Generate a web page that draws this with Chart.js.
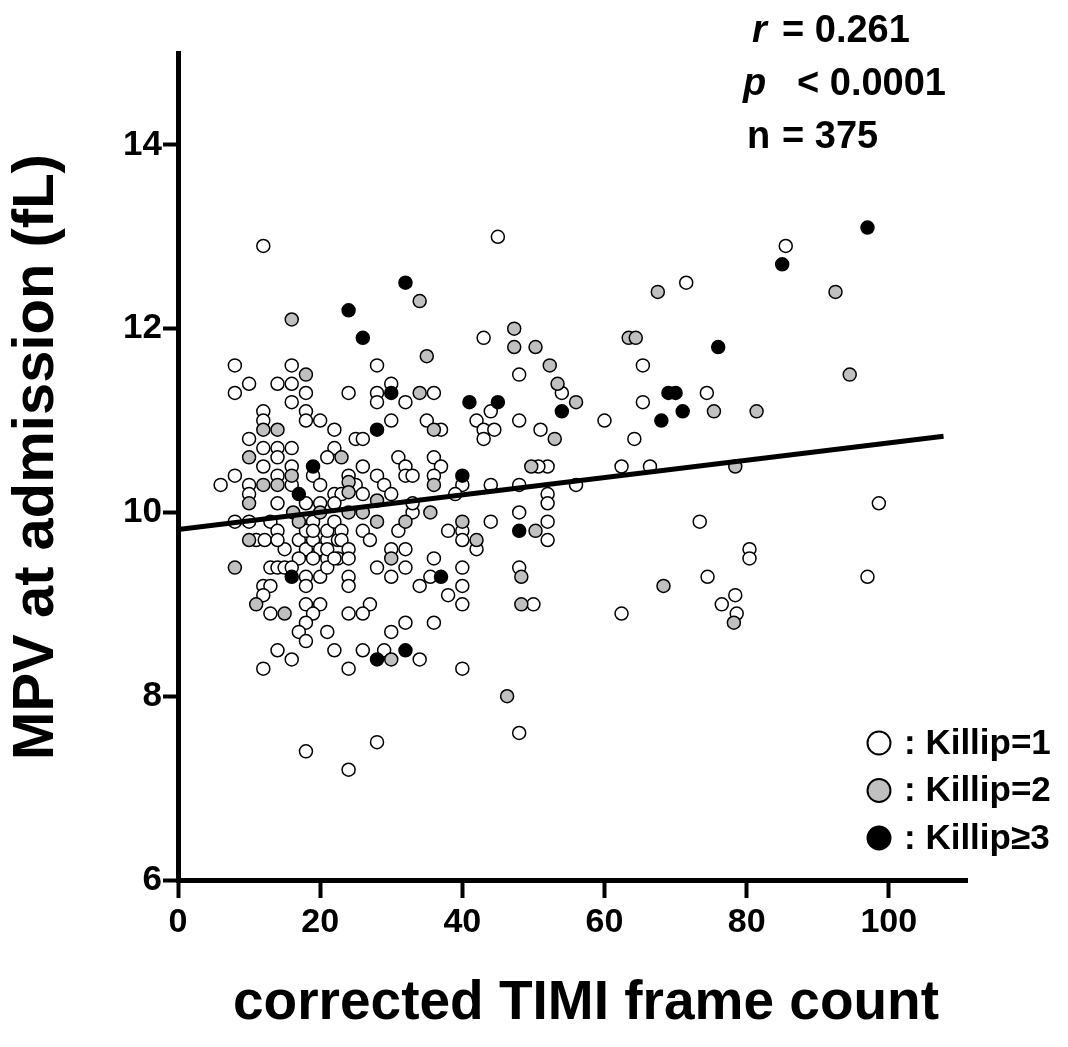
<!DOCTYPE html>
<html lang="en">
<head>
<meta charset="UTF-8">
<title>MPV vs corrected TIMI frame count</title>
<script src="https://cdn.jsdelivr.net/npm/chart.js"></script>
<style>
  html, body { margin: 0; padding: 0; background: #fff; }
  canvas { display: block; }
</style>
</head>
<body>
<canvas id="mpvChart" width="1068" height="1047"></canvas>
<script>
  // [corrected TIMI frame count, MPV (fL)]
  const killip1 = [
    [12,12.9],[8,11.6],[16,11.6],[10,11.4],[14,11.4],[16,11.4],[8,11.3],[18,11.3],[16,11.2],[12,11.1],
    [18,11.1],[12,11.0],[18,11.0],[20,11.0],[22,10.9],[10,10.8],[12,10.7],[14,10.7],[16,10.7],[22,10.7],
    [14,10.6],[21,10.6],[12,10.5],[16,10.5],[8,10.4],[14,10.4],[19,10.4],[6,10.3],[10,10.3],[16,10.3],
    [20,10.3],[22,10.2],[10,10.2],[14,10.1],[8,9.9],[10,9.9],[13,9.9],[14,9.8],[11,9.7],[12.2,9.7],
    [15,9.6],[13,9.4],[14,9.4],[15,9.4],[14,9.7],[17,9.7],[18,9.6],[19,9.7],[20,9.6],[21,9.7],
    [21,9.8],[19,9.9],[18,9.8],[22.5,9.7],[22,9.9],[17,9.5],[19,9.5],[21,9.5],[22.5,9.5],[16,9.4],
    [18,9.3],[20,9.3],[21,9.4],[12,9.2],[13,9.2],[18,9.2],[12,9.1],[18,9.0],[20,9.0],[13,8.9],
    [19,8.9],[18,8.8],[17,8.7],[21,8.7],[18,8.6],[14,8.5],[22,8.5],[16,8.4],[12,8.3],[18,7.4],
    [24,11.3],[28,11.3],[28,11.2],[32,11.2],[30,11.0],[25,10.8],[26,10.8],[26,10.5],[31,10.6],[32,10.5],
    [24,10.4],[28,10.4],[25,10.3],[29,10.3],[23,10.2],[26,10.2],[30,10.2],[18,10.1],[20,10.1],[22,10.1],
    [19,9.8],[23,9.8],[26,9.8],[31,9.8],[23,9.7],[27,9.7],[24,9.6],[21,9.6],[22,9.5],[24,9.5],
    [28,9.4],[45,13.0],[43,11.9],[28,11.6],[30,11.4],[36,11.3],[35,11.0],[37,10.9],[42,11.0],[44,11.1],
    [43,10.9],[44.5,10.9],[43,10.8],[32,10.4],[33,10.4],[36,10.6],[37,10.5],[36,10.4],[44,10.3],[40,10.3],
    [39,10.2],[44,9.9],[38,9.8],[40,9.8],[40,9.7],[42,9.6],[33,10.0],[30,9.6],[32,9.6],[32,9.4],
    [30,9.3],[36,9.5],[35.5,9.3],[34,9.2],[40,9.4],[40,9.2],[38,9.1],[40,9.0],[24,9.3],[24,9.2],
    [27,9.0],[24,8.9],[26,8.9],[32,8.8],[36,8.8],[30,8.7],[26,8.5],[29,8.5],[34,8.4],[24,8.3],
    [40,8.3],[28,7.5],[24,7.2],[48,11.0],[51,10.9],[52,10.5],[50.7,10.5],[48,10.3],[52,10.2],[52,10.1],
    [33,10.1],[48,10.0],[52,9.9],[52,9.7],[48,9.4],[48,11.5],[54,11.3],[60,11.0],[65.4,11.6],[65.4,11.2],
    [71.5,12.5],[85.5,12.9],[74.4,11.3],[64.2,10.8],[62.4,10.5],[66.4,10.5],[56,10.3],[98.6,10.1],[50,9.0],[62.4,8.9],
    [73.4,9.9],[80.4,9.6],[80.4,9.5],[74.5,9.3],[78.4,9.1],[76.5,9.0],[78.6,8.9],[97,9.3],[48,7.6]
  ];
  const killip2 = [
    [16,12.1],[18,11.5],[12,10.9],[14,10.9],[10,10.6],[23,10.6],[16,10.4],[12,10.3],[14,10.3],[10,10.1],
    [16.2,10.0],[17,9.9],[10,9.7],[8,9.4],[11,9.0],[15,8.9],[24,10.33],[24,10.22],[28,10.13],[20,10.0],
    [24,10.0],[26,10.0],[28,9.9],[30,9.5],[34,12.3],[35,11.7],[34,11.3],[36,10.9],[36,10.3],[32,9.9],
    [35.5,10.0],[40,9.9],[42,9.7],[30,8.4],[53,10.8],[49.7,10.5],[50.3,9.8],[47.3,12.0],[47.3,11.8],[50.3,11.8],
    [52.3,11.6],[53.4,11.4],[56,11.2],[63.4,11.9],[64.4,11.9],[67.5,12.4],[75.4,11.1],[81.4,11.1],[92.5,12.4],[94.5,11.5],
    [78.4,10.5],[48.3,9.3],[48.3,9.0],[68.3,9.2],[78.2,8.8],[46.3,8.0]
  ];
  const killip3 = [
    [16,9.3],[17,10.2],[19,10.5],[24,12.2],[26,11.9],[28,10.9],[28,8.4],[30,11.3],[32,12.5],[32,8.5],
    [37,9.3],[40,10.4],[41,11.2],[45,11.2],[48,9.8],[54,11.1],[68,11.0],[69,11.3],[70,11.3],[71,11.1],
    [76,11.8],[85,12.7],[97,13.1]
  ];
  // regression line end points
  const fitLine = [[0, 9.815], [107.7, 10.83]];

  const xTickValues = [0, 20, 40, 60, 80, 100];
  const yTickValues = [6, 8, 10, 12, 14];
  const xTitle = 'corrected TIMI frame count';
  const yTitle = 'MPV at admission (fL)';
  const statLines = [
    { name: 'r', italic: true,  text: '= 0.261' },
    { name: 'p', italic: true,  text: '< 0.0001' },
    { name: 'n', italic: false, text: '= 375' }
  ];
  const legendLabels = ['Killip=1', 'Killip=2', 'Killip\u22653'];
  const groupFills = ['#ffffff', '#c0c0c0', '#000000'];

  const FONT = '"Liberation Sans", Arial, sans-serif';
  const toXY = arr => arr.map(p => ({ x: p[0], y: p[1] }));

  // axis titles, the r/p/n block and the legend
  const notes = {
    id: 'notes',
    afterDraw(chart) {
      const ctx = chart.ctx;
      const area = chart.chartArea;
      ctx.save();
      ctx.fillStyle = '#000';

      // axis titles
      ctx.textAlign = 'center';
      ctx.textBaseline = 'middle';
      ctx.font = 'bold 55px ' + FONT;
      ctx.fillText(xTitle, area.left + 408, 1004);
      ctx.save();
      ctx.translate(37, area.top + 404);
      ctx.rotate(-Math.PI / 2);
      ctx.font = 'bold 58px ' + FONT;
      ctx.fillText(yTitle, 0, 0);
      ctx.restore();

      ctx.textAlign = 'left';
      ctx.textBaseline = 'alphabetic';
      const nameX = [752, 743, 747];
      const textX = [782, 797, 782];
      statLines.forEach((row, i) => {
        const y = 42 + i * 53;
        ctx.font = (row.italic ? 'italic ' : '') + 'bold 38px ' + FONT;
        ctx.fillText(row.name, nameX[i], y);
        ctx.font = 'bold 38px ' + FONT;
        ctx.fillText(row.text, textX[i], y);
      });

      legendLabels.forEach((lab, i) => {
        const y = 743 + i * 47.5;
        ctx.beginPath();
        ctx.arc(879, y, 11.5, 0, Math.PI * 2);
        ctx.fillStyle = groupFills[i];
        ctx.fill();
        ctx.lineWidth = 2;
        ctx.strokeStyle = '#000';
        ctx.stroke();
        ctx.fillStyle = '#000';
        ctx.font = 'bold 35px ' + FONT;
        ctx.textBaseline = 'middle';
        ctx.fillText(': ' + lab, 904, y + 1);
      });
      ctx.restore();
    }
  };

  const pointStyle = fill => ({
    pointRadius: 6.5,
    pointHoverRadius: 6.5,
    pointBorderWidth: 1.5,
    pointBorderColor: '#000',
    pointBackgroundColor: fill,
    showLine: false
  });

  const ctx = document.getElementById('mpvChart').getContext('2d');
  new Chart(ctx, {
    type: 'scatter',
    data: {
      datasets: [
        Object.assign({ label: 'Killip=1', data: toXY(killip1), order: 3 }, pointStyle(groupFills[0])),
        Object.assign({ label: 'Killip=2', data: toXY(killip2), order: 2 }, pointStyle(groupFills[1])),
        Object.assign({ label: 'Killip>=3', data: toXY(killip3), order: 1 }, pointStyle(groupFills[2])),
        {
          label: 'fit',
          data: toXY(fitLine),
          showLine: true,
          borderColor: '#000',
          borderWidth: 5,
          pointRadius: 0,
          order: 0
        }
      ]
    },
    options: {
      responsive: false,
      animation: false,
      events: [],
      layout: { padding: { top: 53, right: 101, left: 0, bottom: 0 } },
      plugins: { legend: { display: false }, tooltip: { enabled: false } },
      scales: {
        x: {
          type: 'linear',
          min: 0,
          max: 111,
          afterFit: s => { s.height = 167; },
          afterBuildTicks: s => { s.ticks = xTickValues.map(v => ({ value: v })); },
          grid: { drawOnChartArea: false, drawTicks: true, tickLength: 18, tickWidth: 4, tickColor: '#000' },
          border: { display: true, color: '#000', width: 5 },
          ticks: { color: '#000', padding: 4, maxRotation: 0, font: { family: FONT, size: 34, weight: 'bold' } }
        },
        y: {
          type: 'linear',
          min: 6,
          max: 15,
          afterFit: s => { s.width = 178; },
          afterBuildTicks: s => { s.ticks = yTickValues.map(v => ({ value: v })); },
          grid: { drawOnChartArea: false, drawTicks: true, tickLength: 15, tickWidth: 4, tickColor: '#000' },
          border: { display: true, color: '#000', width: 5 },
          ticks: { color: '#000', padding: 1, font: { family: FONT, size: 35, weight: 'bold' } }
        }
      }
    },
    plugins: [notes]
  });
</script>
</body>
</html>
